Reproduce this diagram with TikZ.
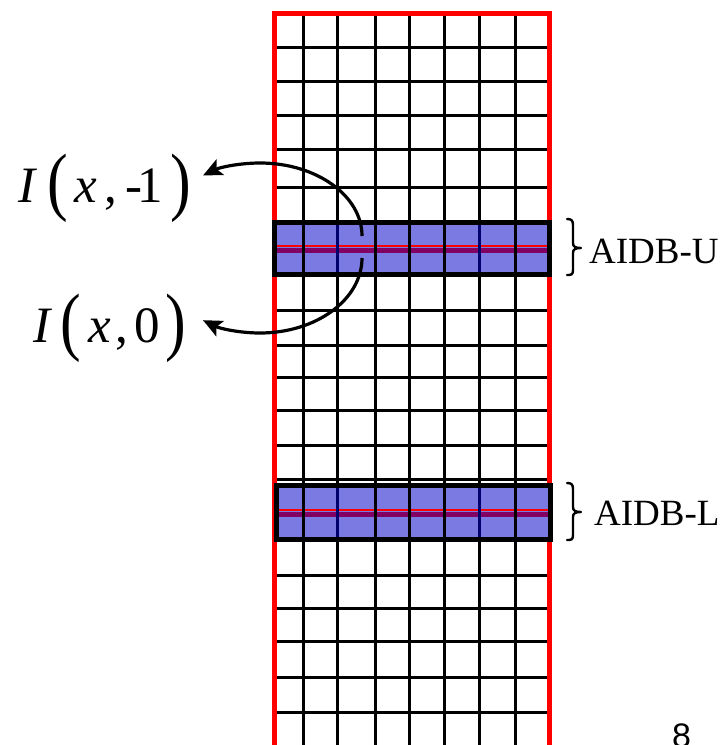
\documentclass[tikz,border=0pt]{standalone}
\usepackage{fontspec}
\setmainfont{Liberation Serif}
\newfontfamily\arialfont{Liberation Sans}
\usepackage{graphicx}
\usetikzlibrary{arrows.meta}
\definecolor{bandblue}{RGB}{122,122,226}
\definecolor{bandpurple}{RGB}{128,0,100}
\definecolor{gridnavy}{RGB}{0,0,110}
\newcommand{\gat}[2]{\rlap{\kern#1pt #2}}
\newcommand{\tallparen}[1]{\raisebox{-4.5pt}{\scalebox{1}[1.22]{\fontsize{62}{62}\selectfont #1}}}
\begin{document}
\begin{tikzpicture}[x=1pt,y=-1pt,
  gridline/.style={line width=3pt,black},
  redframe/.style={line width=5pt,red},
  bandborder/.style={line width=5pt,black},
  redmid/.style={line width=1.8pt,red},
  curvarrow/.style={line width=3.2pt,-{Stealth[length=19pt,width=17pt,inset=4pt]}},
  bracestyle/.style={line width=2.4pt,black,line cap=round,line join=round},
  lbl/.style={anchor=base west,inner sep=0pt}]
\useasboundingbox (0,0) rectangle (724,745);
\fill[white] (0,0) rectangle (724,745);
% grid
\foreach \yy in {47,81,115,149,187,310,345,377,410,445,479,575,608,641,677,712}
  \draw[gridline] (274,\yy) -- (549,\yy);
\foreach \xx in {303,337,375,409,444,479,515}
  \draw[gridline] (\xx,12) -- (\xx,760);
% red frame
\draw[redframe] (274.5,13) rectangle (549.5,760);
% upper band
\fill[bandblue] (274,222) rectangle (549,274);
\fill[bandpurple] (276,248) rectangle (547,253);
\draw[redmid] (274,246) -- (549,246);
\foreach \xx in {303,375,409,444,515}
  \draw[gridline] (\xx,222) -- (\xx,274);
\foreach \xx in {337,479}
  \draw[line width=3pt,gridnavy] (\xx,222) -- (\xx,274);
\draw[bandborder] (274,222.5) rectangle (549,274.5);
% lower band
\fill[bandblue] (276,485) rectangle (550,539);
\fill[bandpurple] (278,512) rectangle (548,517);
\draw[redmid] (276,510) -- (550,510);
\foreach \xx in {303,375,409,444,515}
  \draw[gridline] (\xx,485) -- (\xx,539);
\foreach \xx in {337,479}
  \draw[line width=3pt,gridnavy] (\xx,485) -- (\xx,539);
\draw[bandborder] (276.5,485) rectangle (550,539);
% labels
\node[lbl] (lblA) at (16,202) {\fontsize{51}{55}\selectfont\gat{2}{\textit{I}}\gat{31}{\tallparen{(}}\gat{58}{\textit{x}}\gat{88}{,}\gat{109}{-}\gat{121}{1}\gat{154}{\tallparen{)}}};
\node[lbl] (lblB) at (31,342) {\fontsize{51}{55}\selectfont\gat{2}{\textit{I}}\gat{29}{\tallparen{(}}\gat{57}{\textit{x}}\gat{83.5}{,}\gat{103}{0}\gat{134}{\tallparen{)}}};
% arrows
\coordinate (uStart) at (362,236);
\coordinate (lStart) at (362,258);
\draw[curvarrow] (uStart) arc[start angle=0,end angle=-124,x radius=102,y radius=73];
\draw[curvarrow] (lStart) arc[start angle=0,end angle=124,x radius=102,y radius=75];
% braces
\draw[bracestyle] (567,219) .. controls (571,219) and (573,220) .. (573,225) -- (573,243) .. controls (573,246.5) and (575,248) .. (581,248) .. controls (575,248) and (573,249.5) .. (573,253) -- (573,270) .. controls (573,275) and (571,275) .. (567,275);
\draw[bracestyle] (567,483) .. controls (571,483) and (573,484) .. (573,489) -- (573,507) .. controls (573,510.5) and (575,512) .. (581,512) .. controls (575,512) and (573,513.5) .. (573,517) -- (573,535) .. controls (573,540) and (571,540) .. (567,540);
\node[lbl] (aidbU) at (589,263) {\fontsize{37}{40}\selectfont AIDB-U};
\node[lbl] (aidbL) at (594,525) {\fontsize{37}{40}\selectfont AIDB-L};
\node[lbl] (pagenum) at (672,747) {\arialfont\fontsize{34}{34}\selectfont 8};
\end{tikzpicture}
\end{document}
